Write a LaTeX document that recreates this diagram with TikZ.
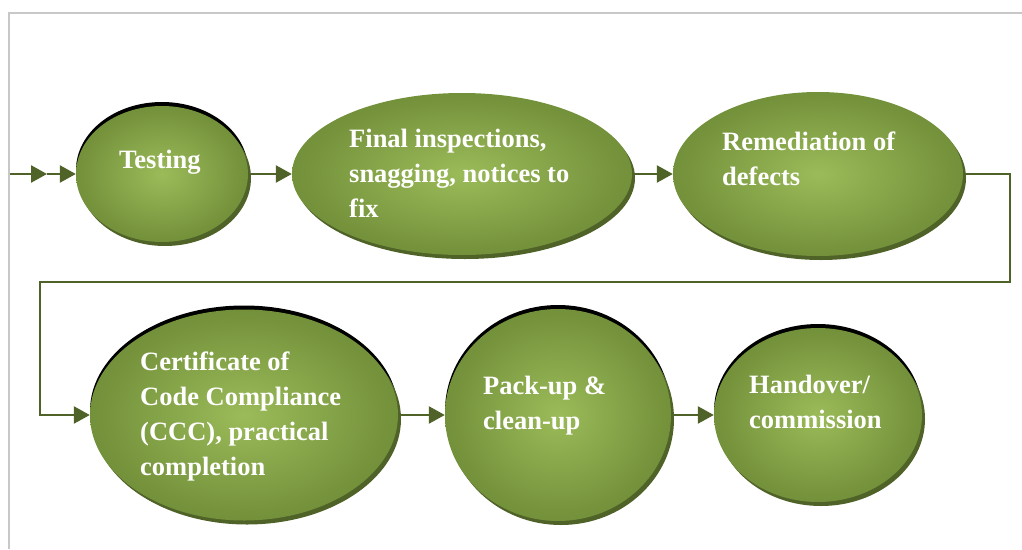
\documentclass[tikz,border=0pt]{standalone}
\usepackage{fontspec}
\setmainfont{Liberation Serif}
\usetikzlibrary{shapes.geometric,arrows.meta,shadows}
\definecolor{olivelight}{HTML}{9BBB59}
\definecolor{olivemid}{HTML}{73903A}
\definecolor{olivedark}{HTML}{4F6228}
\definecolor{framegray}{HTML}{C8C8C8}

\begin{document}
\begin{tikzpicture}[x=1pt, y=-1pt,
  stage/.style={ellipse, inner sep=0pt, inner color=olivelight, outer color=olivemid,
    general shadow={shadow xshift=3pt, shadow yshift=-4pt, fill=olivedark}},
  rim/.style={general shadow={shadow yshift=4pt, fill=black}},
  lbl/.style={anchor=north west, align=left, inner sep=0pt, text=white, font=\fontsize{26.5}{35}\selectfont\bfseries},
  flow/.style={draw=olivedark, line width=2.5pt, -{Triangle[length=16pt, width=17pt]}}]
		\useasboundingbox (0,0) rectangle (1022,549);
		\draw[framegray, line width=1.5pt] (9,549) -- (9,13) -- (1022,13);
		
		\node[rim, stage, minimum width=172pt, minimum height=136pt] (test) at (162,174) {};
		\node[stage, minimum width=340pt, minimum height=162pt] (final) at (462,174) {};
		\node[stage, minimum width=290pt, minimum height=164pt] (rem) at (818,174) {};
		\node[rim, stage, minimum width=308pt, minimum height=211pt] (ccc) at (244,415) {};
		\node[rim, stage, minimum width=226pt, minimum height=212pt] (pack) at (558,415) {};
		\node[rim, stage, minimum width=208pt, minimum height=174pt] (hand) at (818,415) {};
		
		\node[lbl] (test-txt) at (119,150) {Testing};
		\node[lbl] (final-txt) at (349,129) {Final inspections,\\ snagging, notices to\\ fix};
		\node[lbl] (rem-txt) at (722,132) {Remediation of\\ defects};
		\node[lbl] (ccc-txt) at (140,352) {Certificate of\\ Code Compliance\\ (CCC), practical\\ completion};
		\node[lbl] (pack-txt) at (483,376) {Pack-up \&\\ clean-up};
		\node[lbl] (hand-txt) at (749,375) {Handover/\\ commission};
		
		\coordinate (in0) at (10,174);
		\coordinate (in1) at (47,174);
		\coordinate (turnR) at (1010,282);
		\coordinate (turnL) at (40,282);
		
		\draw[flow] (in0) -- (in1);
		\draw[flow] (in1) -- (test.west);
		\draw[flow] (test.east) -- (final.west);
		\draw[flow] (final.east) -- (rem.west);
		\draw[flow] (rem.east) -| (turnR) -- (turnL) |- (ccc.west);
		\draw[flow] (ccc.east) -- (pack.west);
		\draw[flow] (pack.east) -- (hand.west);
		\end{tikzpicture}
\end{document}
